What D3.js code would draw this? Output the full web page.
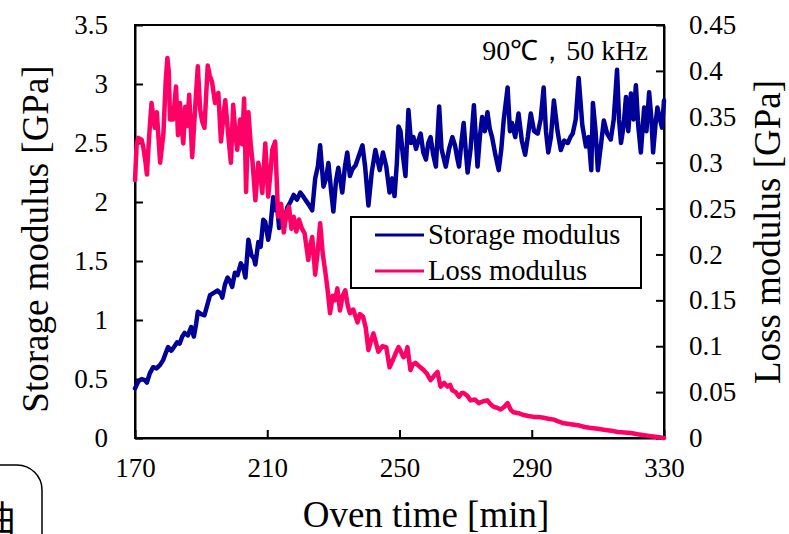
<!DOCTYPE html>
<html>
<head>
<meta charset="utf-8">
<script src="https://cdn.jsdelivr.net/npm/d3@7"></script>
<style>
  html, body { margin: 0; padding: 0; background: #fff; }
  svg { display: block; font-family: "Liberation Serif", "Times New Roman", serif; }
</style>
</head>
<body>
<svg id="chart" width="789" height="534"></svg>
<script>
// readings taken off the figure: [oven time (min), value (GPa)]
const storageData = [
  [170,0.42],[171,0.48],[172,0.50],[173,0.49],[173.6,0.47],[174.5,0.55],[175.5,0.60],[176.5,0.59],
  [177.6,0.62],[178.5,0.66],[179.3,0.72],[180,0.77],[181,0.74],[182,0.78],[182.7,0.81],[183.5,0.80],
  [184.3,0.86],[185,0.89],[186,0.87],[187,0.94],[187.8,0.86],[188.5,0.97],[189,1.07],[190,1.05],
  [191,1.04],[192,1.14],[192.7,1.21],[193.8,1.23],[195,1.25],[196,1.22],[196.4,1.19],[197.2,1.30],
  [198,1.36],[198.7,1.33],[199.4,1.28],[200.2,1.40],[201,1.38],[202,1.48],[202.7,1.45],[203.4,1.36],
  [204.3,1.68],[205.2,1.55],[206,1.52],[206.4,1.47],[207.3,1.66],[208,1.62],[208.8,1.85],[209.4,1.83],
  [210.3,1.68],[211,1.80],[211.8,2.04],[212.4,1.93],[213,1.96],[213.6,1.78],[214.3,1.85],[215,1.79],
  [216,1.95],[217,2.00],[218,2.06],[219,2.02],[220,2.08],[220.8,2.05],[221.5,2.02],[222.5,1.98],
  [223.6,1.93],[224.5,2.20],[225.3,2.30],[226,2.48],[227,2.13],[227.8,2.20],[228.5,2.33],[229.3,2.10],
  [230,1.92],[230.8,2.18],[231.5,2.29],[232.7,2.08],[233.5,2.30],[234.2,2.42],[235,2.22],[235.8,2.28],
  [236.7,2.31],[237.8,2.40],[238.8,2.48],[239.6,2.30],[240.6,1.97],[241.6,2.25],[242.7,2.44],[243.4,2.35],
  [244,2.27],[245,2.42],[246,2.30],[247,2.08],[247.8,2.20],[248.5,2.05],[249.2,2.33],[249.7,2.64],
  [250.3,2.60],[251,2.40],[251.8,2.22],[252.7,2.78],[253.5,2.50],[254.2,2.55],[255,2.45],[255.7,2.52],
  [256.4,2.58],[257.2,2.42],[258,2.36],[258.7,2.50],[259.4,2.55],[260.2,2.40],[261,2.30],[262,2.81],
  [262.7,2.45],[263.3,2.38],[264,2.30],[265,2.45],[266,2.55],[266.8,2.48],[267.4,2.38],[268,2.30],
  [268.7,2.50],[269.4,2.67],[270,2.45],[270.6,2.25],[271.5,2.45],[272.5,2.82],[273.6,2.30],[274.3,2.55],
  [275,2.72],[275.8,2.60],[276.6,2.76],[277.3,2.62],[278,2.55],[279,2.40],[280,2.27],[280.8,2.45],
  [281.5,2.69],[282.7,2.97],[283.4,2.60],[284,2.67],[285,2.55],[286,2.75],[287,2.52],[288,2.40],
  [288.8,2.55],[289.7,2.75],[290.7,2.60],[291.8,2.58],[292.7,2.70],[293.6,2.97],[294.3,2.60],[295,2.42],
  [295.8,2.55],[296.7,2.86],[297.8,2.60],[298.8,2.44],[299.8,2.52],[300.9,2.50],[301.7,2.55],[302.4,2.58],
  [303.3,2.70],[304.2,3.05],[305.3,2.65],[306.4,2.47],[307.2,2.55],[308,2.27],[308.5,2.84],[309.3,2.60],
  [310,2.27],[311,2.50],[311.8,2.69],[312.8,2.58],[313.9,2.53],[314.8,2.70],[315.8,3.12],[316.4,2.70],
  [317,2.50],[317.8,2.65],[318.5,2.89],[319.2,2.60],[320,2.92],[320.8,2.70],[321.5,2.99],[322.2,2.65],
  [323,2.42],[324,2.80],[324.7,2.60],[325.5,2.93],[326.2,2.70],[326.7,2.42],[327.4,2.65],[328,2.80],
  [328.8,2.70],[329.4,2.63],[330,2.86]
];

const lossData = [
  [170,0.281],[170.5,0.320],[171,0.327],[172,0.325],[172.5,0.317],[173.2,0.300],[173.6,0.287],[174.3,0.330],
  [175,0.365],[176,0.338],[176.6,0.355],[177.6,0.300],[178.6,0.332],[179.3,0.390],[179.8,0.414],[180.2,0.400],
  [180.6,0.347],[181.5,0.347],[182.4,0.383],[183,0.330],[183.6,0.365],[184.1,0.340],[184.6,0.321],[185.2,0.361],
  [185.8,0.340],[186.4,0.374],[187.3,0.306],[188.2,0.360],[189,0.405],[189.7,0.358],[190.3,0.345],[191,0.338],
  [192,0.406],[192.6,0.395],[193.3,0.388],[194.2,0.365],[195.2,0.376],[196,0.323],[196.7,0.350],[197.3,0.368],
  [198.2,0.330],[199,0.300],[199.7,0.363],[200.3,0.335],[200.9,0.314],[201.8,0.347],[202.4,0.320],[203,0.370],
  [203.6,0.268],[204.3,0.355],[205,0.320],[205.5,0.303],[206.4,0.259],[207.3,0.300],[208,0.285],[208.5,0.267],
  [209.4,0.321],[210.3,0.263],[211,0.290],[211.5,0.314],[212.4,0.323],[213.3,0.241],[214.2,0.255],[215,0.224],
  [215.8,0.245],[216.6,0.252],[217.3,0.228],[218,0.241],[218.8,0.225],[219.6,0.238],[220.5,0.228],[221.3,0.223],
  [222.4,0.194],[223,0.210],[223.6,0.219],[224.5,0.178],[225.3,0.205],[226,0.234],[226.8,0.200],[227.6,0.180],
  [228.3,0.160],[229,0.136],[229.8,0.155],[230.5,0.150],[231.2,0.163],[232,0.139],[232.8,0.155],[233.6,0.161],
  [234.3,0.145],[235,0.136],[236,0.140],[237.3,0.126],[238,0.135],[239,0.132],[239.8,0.120],[240.6,0.096],
  [241.3,0.105],[242.1,0.114],[242.8,0.105],[243.6,0.094],[244.8,0.100],[246,0.099],[247,0.077],[248,0.085],
  [248.8,0.092],[249.7,0.099],[250.3,0.095],[251.2,0.088],[251.8,0.090],[252.4,0.099],[253.3,0.074],[254,0.080],
  [254.8,0.082],[256,0.078],[257.3,0.074],[258.3,0.070],[259.4,0.063],[260.5,0.068],[261.5,0.072],[262.4,0.056],
  [263.5,0.060],[264.5,0.056],[265.3,0.058],[266,0.052],[267,0.050],[268,0.045],[268.8,0.049],[269.4,0.049],
  [270.5,0.046],[271.5,0.041],[272.8,0.042],[274,0.038],[275.3,0.040],[276.6,0.041],[277.5,0.037],[278.5,0.034],
  [279.5,0.033],[280.6,0.031],[281.7,0.034],[282.7,0.038],[283.6,0.031],[284.5,0.028],[286,0.027],[287.6,0.025],
  [289,0.024],[290.6,0.023],[292,0.023],[293.6,0.022],[295,0.021],[296.7,0.020],[298,0.018],[299.7,0.016],
  [301.8,0.015],[303.9,0.014],[306,0.012],[307.9,0.011],[310,0.010],[311.8,0.009],[314,0.008],[316,0.0065],
  [318,0.006],[320,0.0054],[322,0.004],[324,0.003],[326,0.002],[328,0.001],[330,0.0]
];

const xTicks = [170, 210, 250, 290, 330];
const leftTicks = [0, 0.5, 1, 1.5, 2, 2.5, 3, 3.5];
const rightTicks = [0, 0.05, 0.1, 0.15, 0.2, 0.25, 0.3, 0.35, 0.4, 0.45];
const seriesNames = ["Storage modulus", "Loss modulus"];
const seriesColors = ["#000099", "#ff0066"];

const svg = d3.select("#chart");
const plotL = 135, plotR = 664, plotT = 25, plotB = 438;

const x = d3.scaleLinear().domain([170, 330]).range([plotL, plotR]);
const yL = d3.scaleLinear().domain([0, 3.5]).range([plotB, plotT]);
const yR = d3.scaleLinear().domain([0, 0.45]).range([plotB, plotT]);

// frame
svg.append("rect")
    .attr("x", plotL).attr("y", plotT)
    .attr("width", plotR - plotL).attr("height", plotB - plotT)
    .attr("fill", "none").attr("stroke", "#000").attr("stroke-width", 2);

// axes (ticks pointing inward)
const gx = svg.append("g").attr("transform", `translate(0,${plotB})`)
    .call(d3.axisBottom(x).tickValues(xTicks).tickSizeInner(-8).tickSizeOuter(0).tickPadding(20));
const gl = svg.append("g").attr("transform", `translate(${plotL},0)`)
    .call(d3.axisLeft(yL).tickValues(leftTicks).tickSizeInner(-8).tickSizeOuter(0).tickPadding(27)
        .tickFormat(d3.format("")));
const gr = svg.append("g").attr("transform", `translate(${plotR},0)`)
    .call(d3.axisRight(yR).tickValues(rightTicks).tickSizeInner(-8).tickSizeOuter(0).tickPadding(25)
        .tickFormat(d3.format("")));

[gx, gl, gr].forEach(g => {
    g.select(".domain").attr("stroke", "#000").attr("stroke-width", 2);
    g.selectAll(".tick line").attr("stroke", "#000").attr("stroke-width", 2);
    g.selectAll(".tick text")
        .attr("fill", "#000")
        .attr("font-family", "Liberation Serif, Times New Roman, serif")
        .attr("font-size", 27);
});
gx.selectAll(".tick text").attr("dy", "0.71em");

// series
const lineL = d3.line().x(d => x(d[0])).y(d => yL(d[1]));
const lineR = d3.line().x(d => x(d[0])).y(d => yR(d[1]));

svg.append("path").datum(storageData)
    .attr("d", lineL)
    .attr("fill", "none").attr("stroke", seriesColors[0])
    .attr("stroke-width", 4.5).attr("stroke-linejoin", "round").attr("stroke-linecap", "round");
svg.append("path").datum(lossData)
    .attr("d", lineR)
    .attr("fill", "none").attr("stroke", seriesColors[1])
    .attr("stroke-width", 4.5).attr("stroke-linejoin", "round").attr("stroke-linecap", "round");

// legend
const lg = svg.append("g");
lg.append("rect")
    .attr("x", 351).attr("y", 217).attr("width", 290).attr("height", 71)
    .attr("fill", "#fff").attr("stroke", "#000").attr("stroke-width", 2);
seriesNames.forEach((name, i) => {
    const cy = 235 + i * 36;
    lg.append("line")
        .attr("x1", 375).attr("x2", 424).attr("y1", cy).attr("y2", cy)
        .attr("stroke", seriesColors[i]).attr("stroke-width", 3);
    lg.append("text")
        .attr("x", 428).attr("y", cy + 9)
        .attr("font-size", 28.5).text(name);
});

// condition note
svg.append("text")
    .attr("x", 648).attr("y", 60)
    .attr("text-anchor", "end")
    .attr("font-size", 28)
    .text("90℃，50 kHz");

// axis titles
svg.append("text")
    .attr("x", 426).attr("y", 527)
    .attr("text-anchor", "middle")
    .attr("font-size", 37)
    .text("Oven time [min]");
svg.append("text")
    .attr("transform", "translate(48,239) rotate(-90)")
    .attr("text-anchor", "middle")
    .attr("font-size", 37)
    .text("Storage modulus [GPa]");
svg.append("text")
    .attr("transform", "translate(780,232) rotate(-90)")
    .attr("text-anchor", "middle")
    .attr("font-size", 37)
    .text("Loss modulus [GPa]");

// leftover piece of the page at the lower left
svg.append("path")
    .attr("d", "M0,465 L17,465 A25,25 0 0 1 42,490 L42,534")
    .attr("fill", "none").attr("stroke", "#000").attr("stroke-width", 1.5);
svg.append("text")
    .attr("x", -20).attr("y", 532)
    .attr("font-family", "Noto Sans CJK JP")
    .attr("font-size", 36)
    .text("曲");
</script>
</body>
</html>
